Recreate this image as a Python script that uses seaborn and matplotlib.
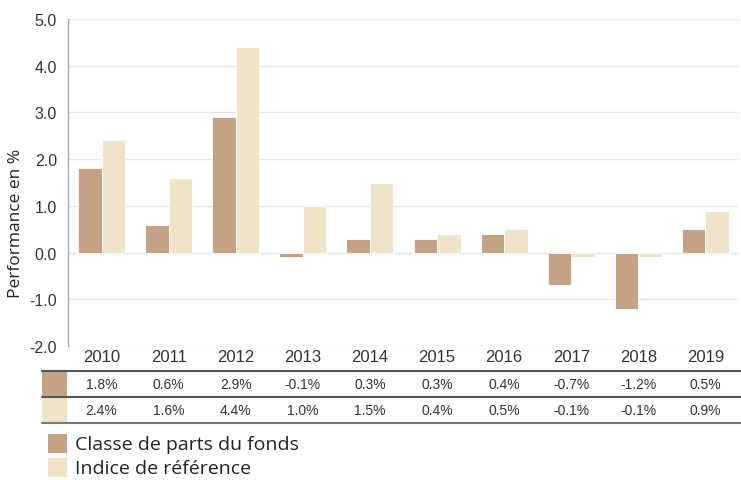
import matplotlib
matplotlib.use("Agg")
import matplotlib.pyplot as plt
import matplotlib.transforms as mtransforms
from matplotlib.patches import Rectangle
from matplotlib.lines import Line2D
import seaborn as sns
import pandas as pd

years = ["2010", "2011", "2012", "2013", "2014", "2015", "2016", "2017", "2018", "2019"]
fund = [1.8, 0.6, 2.9, -0.1, 0.3, 0.3, 0.4, -0.7, -1.2, 0.5]
index = [2.4, 1.6, 4.4, 1.0, 1.5, 0.4, 0.5, -0.1, -0.1, 0.9]
series_names = ["Classe de parts du fonds", "Indice de référence"]
colors = ["#C4A283", "#EFE3C9"]
yticks = [-2.0, -1.0, 0.0, 1.0, 2.0, 3.0, 4.0, 5.0]

df = pd.DataFrame({
    "year": years * 2,
    "value": fund + index,
    "series": [series_names[0]] * len(years) + [series_names[1]] * len(years),
})

sns.set_theme(style="white")
plt.rcParams["font.family"] = ["Liberation Sans", "DejaVu Sans"]

W, H = 741, 481
fig = plt.figure(figsize=(W / 100, H / 100), dpi=100)
AX_L, AX_R = 68, 739
ax = fig.add_axes([AX_L / W, 1 - 347 / H, (AX_R - AX_L) / W, (347 - 20) / H])

sns.barplot(data=df, x="year", y="value", hue="series", palette=colors,
            width=0.7, ax=ax, legend=False, edgecolor="white", linewidth=0.6,
            saturation=1)

ax.set_ylim(-2.0, 5.0)
ax.set_xlim(-0.5, len(years) - 0.5)
ax.set_yticks(yticks)
ax.set_yticklabels([f"{v:.1f}" for v in yticks], fontsize=11.5, color="#333333")
ax.set_xticks([])
ax.set_xlabel("")
ax.set_ylabel("Performance en %", fontsize=12.5, color="#222222",
              family=["Open Sans", "DejaVu Sans"])
ax.yaxis.set_label_coords((24 - AX_L) / (AX_R - AX_L), (347 - 223) / 327)
ax.tick_params(axis="y", length=0, pad=8)
ax.grid(axis="y", color="#e6e6e6", linewidth=1)
ax.set_axisbelow(True)
for s in ["top", "right", "bottom"]:
    ax.spines[s].set_visible(False)
ax.spines["left"].set_color("#aaaaaa")
ax.spines["left"].set_linewidth(1)

# Data table below the chart
trans = mtransforms.blended_transform_factory(ax.transData, fig.transFigure)
def fy(py):
    return 1 - py / H

for i, y in enumerate(years):
    ax.text(i, fy(358), y, transform=trans, ha="center", va="center",
            fontsize=12, color="#333333")
    ax.text(i, fy(385), f"{fund[i]:.1f}%", transform=trans, ha="center",
            va="center", fontsize=10, color="#333333")
    ax.text(i, fy(411), f"{index[i]:.1f}%", transform=trans, ha="center",
            va="center", fontsize=10, color="#333333")

for py, c in [(372, "#555555"), (398, "#555555"), (424, "#777777")]:
    fig.add_artist(Line2D([42 / W, 741 / W], [fy(py), fy(py)],
                          transform=fig.transFigure, color=c, linewidth=1.5))

fig.add_artist(Rectangle((42 / W, fy(397)), 25 / W, 24 / H,
                         transform=fig.transFigure, facecolor=colors[0], edgecolor="none"))
fig.add_artist(Rectangle((42 / W, fy(423)), 25 / W, 24 / H,
                         transform=fig.transFigure, facecolor=colors[1], edgecolor="none"))

# Legend
for k, (name, c) in enumerate(zip(series_names, colors)):
    top = 435 + k * 24
    fig.add_artist(Rectangle((48 / W, fy(top + 19)), 19 / W, 19 / H,
                             transform=fig.transFigure, facecolor=c, edgecolor="none"))
    fig.text(75 / W, fy(top + 10), name, ha="left", va="center", fontsize=14,
             color="#222222", family=["Open Sans", "DejaVu Sans"])

fig.savefig("out.png", dpi=100)
